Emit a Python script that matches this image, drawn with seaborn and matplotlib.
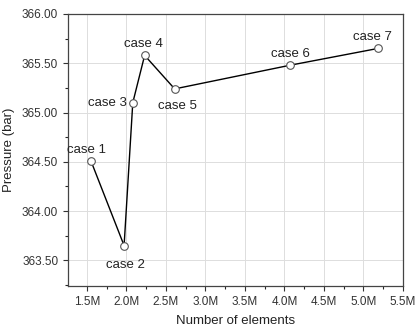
import numpy as np
import pandas as pd
import matplotlib
matplotlib.use("Agg")
import matplotlib.pyplot as plt
import seaborn as sns
from matplotlib.ticker import MultipleLocator, FuncFormatter

# --- data ---
cases = ["case 1", "case 2", "case 3", "case 4", "case 5", "case 6", "case 7"]
elements_m = [1.55, 1.97, 2.08, 2.23, 2.61, 4.07, 5.18]
pressure = [364.51, 363.65, 365.10, 365.58, 365.24, 365.48, 365.65]

# label offsets in points (dx, dy, ha)
label_pos = [(-3, 8, "center"), (1, -14, "center"), (-4, 0, "right"),
             (-1, 8, "center"), (2, -12, "center"), (0, 8, "center"), (-4, 8, "center")]

df = pd.DataFrame({"case": cases, "elements": elements_m, "pressure": pressure})

sns.set_theme(style="white")
plt.rcParams["font.family"] = ["Liberation Sans", "DejaVu Sans"]

fig = plt.figure(figsize=(4.16, 3.29), dpi=100)
ax = fig.add_axes([68 / 416, 1 - 286 / 329, (403 - 68) / 416, (286 - 14) / 329])

sns.lineplot(data=df, x="elements", y="pressure", ax=ax, color="black",
             linewidth=1.0, marker="o", markersize=5.5, markerfacecolor="white",
             markeredgecolor="#555555", markeredgewidth=0.8, sort=False)

for (name, x, y), (dx, dy, ha) in zip(zip(cases, elements_m, pressure), label_pos):
    ax.annotate(name, (x, y), xytext=(dx, dy), textcoords="offset points",
                ha=ha, va="center", fontsize=9.5, color="#222222")

ax.set_xlim(1.26, 5.5)
ax.set_ylim(363.24, 366.0)
ax.xaxis.set_major_locator(MultipleLocator(0.5))
ax.xaxis.set_minor_locator(MultipleLocator(0.25))
ax.yaxis.set_major_locator(MultipleLocator(0.5))
ax.yaxis.set_minor_locator(MultipleLocator(0.25))
ax.xaxis.set_major_formatter(FuncFormatter(lambda v, p: f"{v:.1f}M"))
ax.yaxis.set_major_formatter(FuncFormatter(lambda v, p: f"{v:.2f}"))

ax.grid(True, which="major", color="#dddddd", linewidth=0.7)
ax.tick_params(axis="both", which="major", direction="out", length=3.5, width=0.8,
               labelsize=8.5, colors="#333333", bottom=True, left=True)
ax.tick_params(axis="both", which="minor", direction="out", length=2, width=0.8,
               bottom=True, left=True)
for s in ax.spines.values():
    s.set_color("#444444")
    s.set_linewidth(0.9)

ax.set_xlabel("Number of elements", fontsize=9.5, color="#222222", labelpad=5)
ax.set_ylabel("Pressure (bar)", fontsize=9.5, color="#222222", labelpad=5)

fig.savefig("out.png", dpi=100, facecolor="white")
